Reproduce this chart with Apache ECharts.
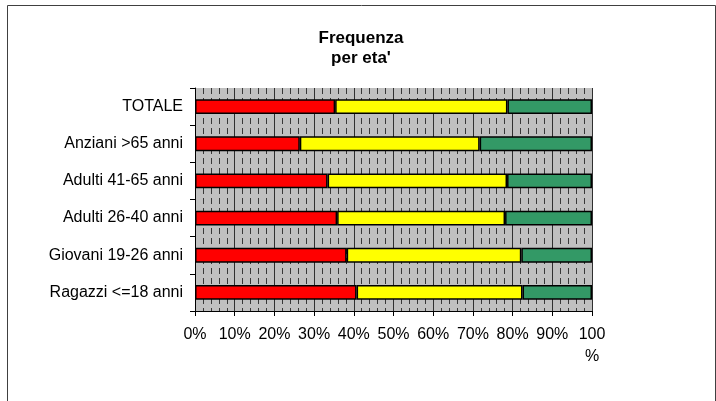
<!DOCTYPE html>
<html>
<head>
<meta charset="utf-8">
<script src="https://cdn.jsdelivr.net/npm/echarts@6/dist/echarts.min.js"></script>
<style>
  html, body { margin: 0; padding: 0; background: #ffffff; }
  #chart { width: 716px; height: 401px; }
</style>
</head>
<body>
<div id="chart"></div>
<script>
// Age groups, listed bottom to top as drawn on the category axis
var categories = ['Ragazzi <=18 anni', 'Giovani 19-26 anni', 'Adulti 26-40 anni', 'Adulti 41-65 anni', 'Anziani >65 anni', 'TOTALE'];

// Share of each frequency level (percent of the group)
var bassa = [40.7, 38.2, 35.8, 33.4, 26.4, 35.3];
var media = [41.8, 44.0, 42.3, 45.2, 45.3, 43.4];
var alta  = [17.5, 17.8, 21.9, 21.4, 28.3, 21.3];

var seriesNames = ['Bassa', 'Media', 'Alta'];
var seriesColors = ['#FF0000', '#FFFF00', '#339966'];
var seriesData = [bassa, media, alta];

var xTicks = [0, 10, 20, 30, 40, 50, 60, 70, 80, 90, 100];

var FONT = 'Liberation Sans, Arial, sans-serif';

var chart = echarts.init(document.getElementById('chart'), null, { renderer: 'canvas' });

var series = seriesData.map(function (vals, i) {
  return {
    name: seriesNames[i],
    type: 'bar',
    stack: 'tot',
    barWidth: '40%',
    data: vals,
    itemStyle: { color: seriesColors[i], borderColor: '#000000', borderWidth: 1.5 },
    emphasis: { disabled: true },
    silent: true
  };
});

chart.setOption({
  animation: false,
  backgroundColor: '#ffffff',
  title: {
    text: 'Frequenza\nper eta\'',
    left: 356,
    top: 23,
    textAlign: 'center',
    textStyle: { fontFamily: FONT, fontSize: 17, fontWeight: 'bold', color: '#000', lineHeight: 20 }
  },
  graphic: [{
    type: 'rect',
    shape: { x: 7.5, y: 5.5, width: 708, height: 400 },
    style: { fill: 'none', stroke: '#404040', lineWidth: 1 },
    silent: true
  }],
  grid: {
    left: 195, right: 124, top: 88, bottom: 90,
    show: true,
    backgroundColor: '#C0C0C0',
    borderWidth: 0
  },
  xAxis: {
    type: 'value',
    min: xTicks[0],
    max: xTicks[xTicks.length - 1],
    interval: xTicks[1] - xTicks[0],
    axisLine: { show: true, lineStyle: { color: '#000', width: 1 } },
    axisTick: { show: true, length: 5, lineStyle: { color: '#000' } },
    axisLabel: {
      margin: 13,
      fontFamily: FONT, fontSize: 16, color: '#000', lineHeight: 22,
      formatter: function (v) { return v === 100 ? '100\n%' : v + '%'; }
    },
    splitLine: { show: true, lineStyle: { color: '#303030', width: 1 } },
    minorTick: { show: false, splitNumber: 5 },
    minorSplitLine: { show: true, lineStyle: { color: '#383838', width: 1, type: [6, 4] } }
  },
  yAxis: {
    type: 'category',
    data: categories,
    axisLine: { show: true, lineStyle: { color: '#000', width: 1 } },
    axisTick: { show: true, length: 5, lineStyle: { color: '#000' } },
    axisLabel: { margin: 12, fontFamily: FONT, fontSize: 16, color: '#000' },
    splitLine: { show: false }
  },
  series: series
});
</script>
</body>
</html>
